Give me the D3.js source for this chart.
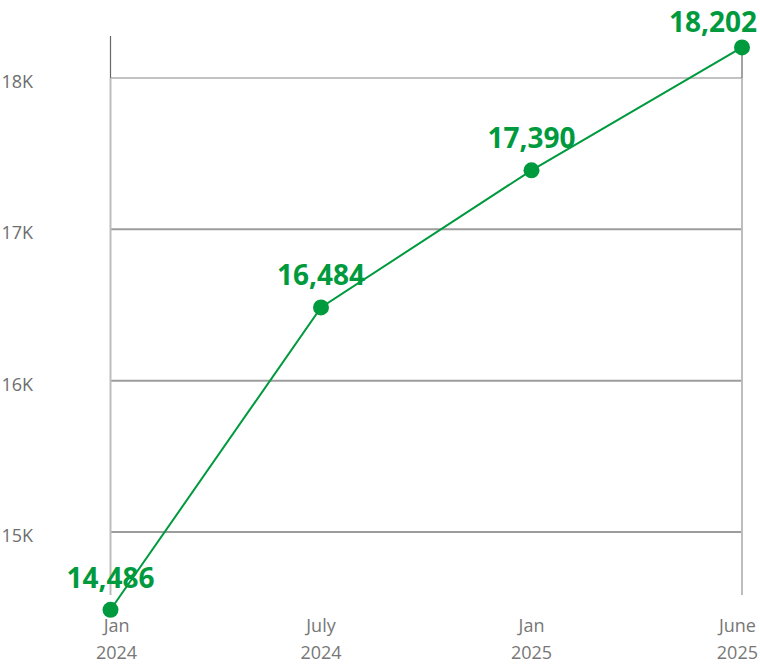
<!DOCTYPE html>
<html>
<head>
<meta charset="utf-8">
<script src="https://cdn.jsdelivr.net/npm/d3@7"></script>
<style>
  html, body { margin: 0; padding: 0; background: #fff; }
  svg { display: block; }
</style>
</head>
<body>
<svg id="chart" width="760" height="665"></svg>
<script>
// ---- data ----
const categories = ["Jan 2024", "July 2024", "Jan 2025", "June 2025"];
const monthLabels = ["Jan", "July", "Jan", "June"];
const yearLabels = ["2024", "2024", "2025", "2025"];
const values = [14486, 16484, 17390, 18202];
const yTickValues = [15000, 16000, 17000, 18000];
const yTickLabels = ["15K", "16K", "17K", "18K"];

// ---- layout ----
const W = 760, H = 665;
const green = "#009a3e";
const font = "'Open Sans', 'Noto Sans', sans-serif";

const svg = d3.select("#chart");

const x = d3.scalePoint().domain(categories).range([110.5, 742]);
const y = d3.scaleLinear().domain([15000, 18000]).range([532, 78]);

// gridlines
const grid = svg.append("g");
grid.selectAll("line").data(yTickValues).join("line")
  .attr("x1", x(categories[0])).attr("x2", x(categories[categories.length - 1]))
  .attr("y1", d => y(d)).attr("y2", d => y(d))
  .attr("stroke", (d, i) => i === yTickValues.length - 1 ? "#c2c2c2" : "#9c9c9c")
  .attr("stroke-width", 2);

// y tick labels
svg.append("g").selectAll("text").data(yTickValues).join("text")
  .attr("x", 33).attr("y", d => y(d) + 10)
  .attr("text-anchor", "end")
  .attr("font-family", font).attr("font-size", 18)
  .attr("fill", "#6e6e6e")
  .text((d, i) => yTickLabels[i]);

// frame verticals
const xl = x(categories[0]), xr = x(categories[categories.length - 1]);
const yTop = y(yTickValues[yTickValues.length - 1]);
svg.append("line").attr("x1", xl).attr("x2", xl).attr("y1", yTop).attr("y2", 595)
  .attr("stroke", "#bdbdbd").attr("stroke-width", 2);
svg.append("line").attr("x1", xr).attr("x2", xr).attr("y1", yTop).attr("y2", 595)
  .attr("stroke", "#bdbdbd").attr("stroke-width", 2);
svg.append("line").attr("x1", xl).attr("x2", xl).attr("y1", 36).attr("y2", yTop)
  .attr("stroke", "#666").attr("stroke-width", 1.2);
svg.append("line").attr("x1", xr).attr("x2", xr).attr("y1", y(values[values.length - 1])).attr("y2", yTop)
  .attr("stroke", "#666").attr("stroke-width", 1.2);

// x labels
const xg = svg.append("g");
categories.forEach((c, i) => {
  const t = xg.append("text")
    .attr("x", x(c)).attr("y", 632)
    .attr("text-anchor", "middle")
    .attr("font-family", font).attr("font-size", 18)
    .attr("fill", "#777");
  t.append("tspan").attr("x", x(c)).attr("dy", 0).text(monthLabels[i]);
  t.append("tspan").attr("x", x(c)).attr("dy", 27).text(yearLabels[i]);
  // keep within canvas
  const bb = t.node().getBBox();
  let shift = 0;
  if (bb.x < 96) shift = 96 - bb.x;
  if (bb.x + bb.width > W - 2) shift = (W - 2) - (bb.x + bb.width);
  if (shift) t.attr("transform", `translate(${shift},0)`);
});

// line
const data = categories.map((c, i) => ({ c, v: values[i] }));
svg.append("path").datum(data)
  .attr("fill", "none").attr("stroke", green).attr("stroke-width", 2)
  .attr("d", d3.line().x(d => x(d.c)).y(d => y(d.v)));

// dots
svg.append("g").selectAll("circle").data(data).join("circle")
  .attr("cx", d => x(d.c)).attr("cy", d => y(d.v)).attr("r", 8)
  .attr("fill", green);

// value labels
const fmt = d3.format(",");
const last = data.length - 1;
svg.append("g").selectAll("text").data(data).join("text")
  .attr("x", (d, i) => i === last ? x(d.c) + 15 : x(d.c))
  .attr("y", (d, i) => y(d.v) - (i === last ? 15 : 22))
  .attr("text-anchor", (d, i) => i === last ? "end" : "middle")
  .attr("font-family", font).attr("font-size", 28).attr("font-weight", 700)
  .attr("fill", green)
  .text(d => fmt(d.v));
</script>
</body>
</html>
